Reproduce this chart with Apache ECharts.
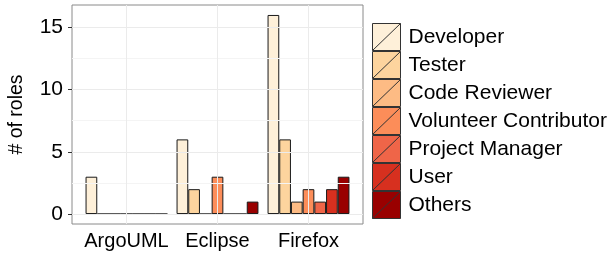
<!DOCTYPE html>
<html>
<head>
<meta charset="utf-8">
<script src="https://cdn.jsdelivr.net/npm/echarts@6/dist/echarts.min.js"></script>
<style>
  html, body { margin: 0; padding: 0; background: #fff; }
  #chart { width: 611px; height: 257px; }
</style>
</head>
<body>
<div id="chart"></div>
<script>
  // data
  var categories = ['ArgoUML', 'Eclipse', 'Firefox'];
  var roles = ['Developer', 'Tester', 'Code Reviewer', 'Volunteer Contributor', 'Project Manager', 'User', 'Others'];
  var developer = [3, 6, 16];
  var tester = [0, 2, 6];
  var codeReviewer = [0, 0, 1];
  var volunteer = [0, 3, 2];
  var projectManager = [0, 0, 1];
  var user = [0, 0, 2];
  var others = [0, 1, 3];
  var roleValues = [developer, tester, codeReviewer, volunteer, projectManager, user, others];
  var colors = ['#fef0d9', '#fdd49e', '#fdbb84', '#fc8d59', '#ef6548', '#d7301f', '#990000'];
  var majorBreaks = [0, 5, 10, 15];
  var minorBreaks = [2.5, 7.5, 12.5];

  var chart = echarts.init(document.getElementById('chart'));
  var font = 'Liberation Sans, Arial, Helvetica, sans-serif';

  // grid lines (ggplot style) drawn as markLines
  var hLines = [];
  majorBreaks.forEach(function (v) { hLines.push({ yAxis: v, lineStyle: { color: '#ebebeb', width: 1, type: 'solid' } }); });
  minorBreaks.forEach(function (v) { hLines.push({ yAxis: v, lineStyle: { color: '#f4f4f4', width: 1, type: 'solid' } }); });
  var vLines = categories.map(function (c) { return { xAxis: c, lineStyle: { color: '#ebebeb', width: 1, type: 'solid' } }; });

  var series = [
    { type: 'line', xAxisIndex: 0, yAxisIndex: 0, data: [], z: 1, silent: true,
      markLine: { silent: true, symbol: 'none', label: { show: false }, animation: false, data: hLines } },
    { type: 'line', xAxisIndex: 1, yAxisIndex: 1, data: [], z: 1, silent: true,
      markLine: { silent: true, symbol: 'none', label: { show: false }, animation: false, data: vLines } }
  ];
  for (var i = 0; i < roles.length; i++) {
    series.push({
      name: roles[i],
      type: 'bar',
      xAxisIndex: 1, yAxisIndex: 1,
      data: roleValues[i],
      barGap: '0%',
      barCategoryGap: '10%',
      z: 3,
      itemStyle: { color: colors[i], borderColor: '#1a1a1a', borderWidth: 1 }
    });
  }

  var option = {
    animation: false,
    textStyle: { fontFamily: font },
    grid: [
      { left: 72, right: 248, top: 5, bottom: 33, show: true, borderColor: '#8a8a8a', borderWidth: 1, backgroundColor: '#fff' },
      { left: 81, right: 257, top: 5, bottom: 33 }
    ],
    xAxis: [
      { gridIndex: 0, type: 'value', min: 0, max: 1, show: false },
      { gridIndex: 1, type: 'category', data: categories,
        axisLine: { show: false },
        axisTick: { show: true, alignWithLabel: true, length: 4, lineStyle: { color: '#333' } },
        axisLabel: { interval: 0, fontSize: 20, color: '#000', margin: 7, fontFamily: font },
        splitLine: { show: false } }
    ],
    yAxis: [
      { gridIndex: 0, type: 'value', min: -0.8, max: 16.8,
        axisLine: { show: false },
        axisTick: { show: true, length: 4, customValues: majorBreaks, lineStyle: { color: '#333' } },
        axisLabel: { customValues: majorBreaks, fontSize: 21, color: '#000', margin: 9, fontFamily: font },
        splitLine: { show: false },
        name: '# of roles', nameLocation: 'middle', nameGap: 45,
        nameTextStyle: { fontSize: 19.5, color: '#000', fontFamily: font } },
      { gridIndex: 1, type: 'value', min: -0.8, max: 16.8, show: false, splitLine: { show: false } }
    ],
    legend: {
      orient: 'vertical',
      left: 372, top: 23,
      padding: 0,
      itemWidth: 28, itemHeight: 27, itemGap: 0,
      icon: 'path://M0,0L28,0L28,27L0,27Z M0,27L28,0',
      itemStyle: { borderColor: '#333', borderWidth: 1 },
      textStyle: { fontSize: 21, lineHeight: 26.8, color: '#000', fontFamily: font, padding: [0, 0, 0, 3] },
      data: roles
    },
    series: series
  };
  chart.setOption(option);
</script>
</body>
</html>
